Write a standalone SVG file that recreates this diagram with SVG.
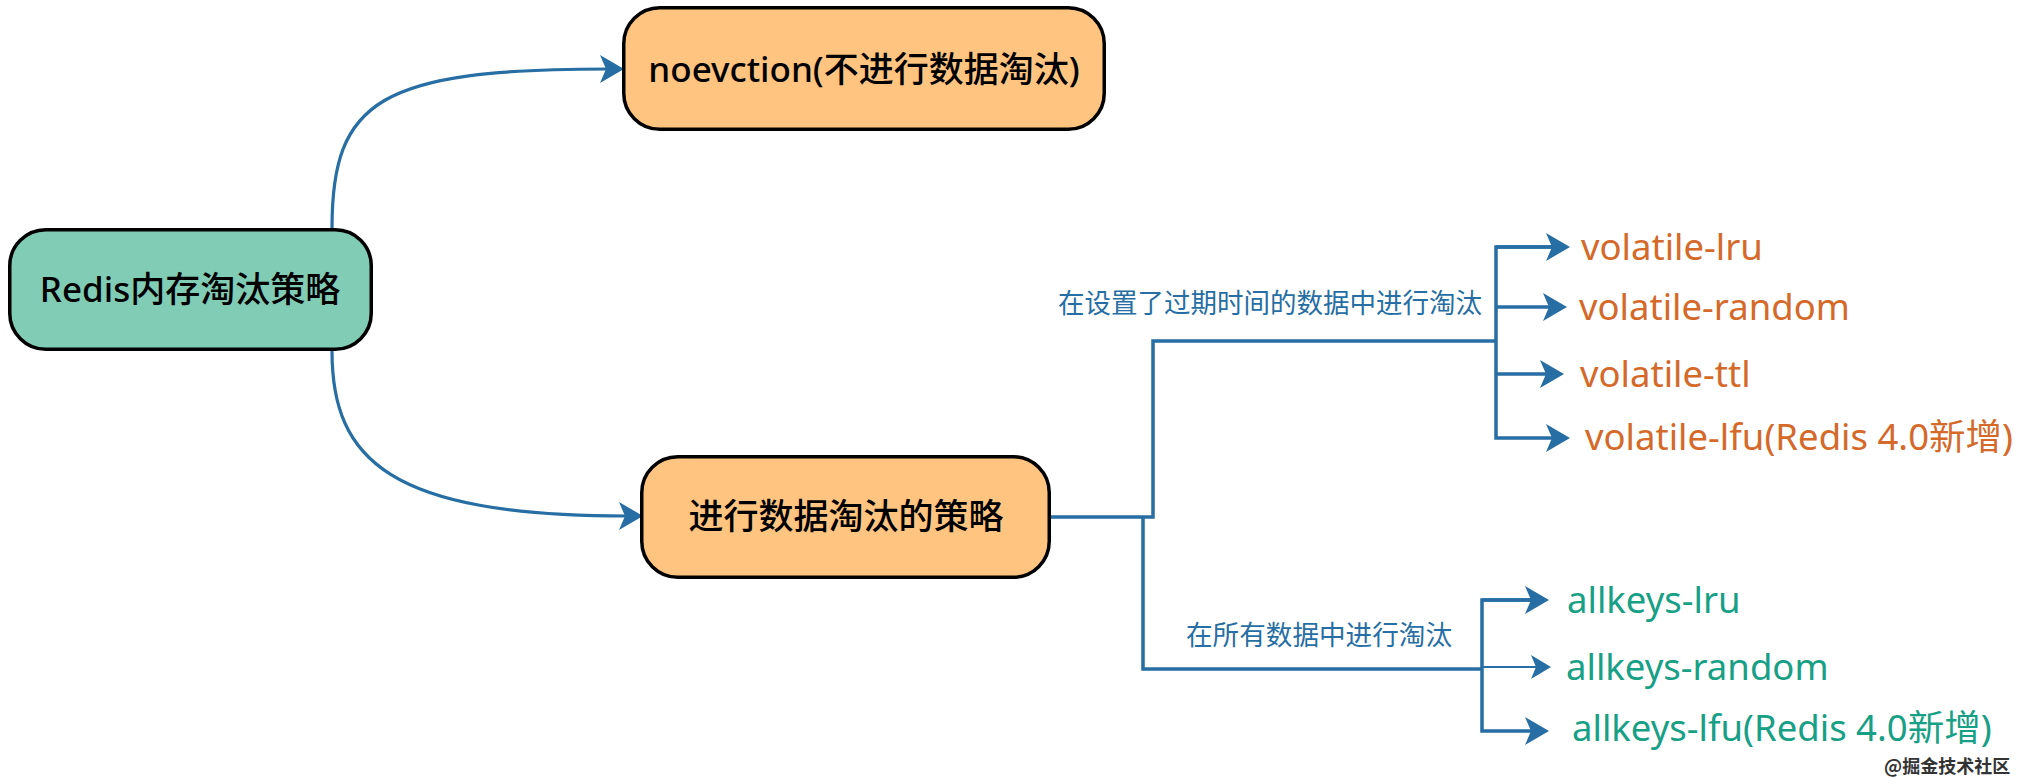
<svg xmlns="http://www.w3.org/2000/svg" width="2040" height="778" viewBox="0 0 2040 778">
  <style>
    .box { stroke: #000000; stroke-width: 3.5; }
    .root { fill: #80ccb5; }
    .leaf { fill: #ffc480; }
    .ntext { font-family: 'Noto Sans', 'Noto Sans CJK SC', sans-serif; font-size: 35px; fill: #000000; text-anchor: middle; font-weight: 500; }
    .conn { fill: none; stroke: #266ea3; stroke-width: 3.5; stroke-linejoin: miter; }
    .curve { stroke-width: 3.2; }
    .thin { stroke-width: 1.8; }
    .label { font-family: 'Noto Sans CJK SC', 'Noto Sans', sans-serif; font-size: 27px; fill: #266ea3; }
    .opt { font-family: 'Noto Sans', 'Noto Sans CJK SC', sans-serif; font-size: 36.5px; }
    .orange { fill: #d4692a; }
    .green { fill: #17a085; }
    .wm { font-family: 'Noto Sans CJK SC', sans-serif; font-size: 18px; fill: #333333; font-weight: 700; }
  </style>
  <defs>
    <marker id="arrow" markerUnits="userSpaceOnUse" viewBox="0 0 24 28" refX="8" refY="14" markerWidth="24" markerHeight="28" orient="auto">
      <path d="M0,0 L24,14 L0,28 L6,14 Z" fill="#266ea3"/>
    </marker>
    <marker id="arrowS" markerUnits="userSpaceOnUse" viewBox="0 0 20 24" refX="6" refY="12" markerWidth="20" markerHeight="24" orient="auto">
      <path d="M0,0 L20,12 L0,24 L5,12 Z" fill="#266ea3"/>
    </marker>
  </defs>

  <g id="connectors">
    <path class="conn curve" d="M332,228 C332,100 380,69 608,69" marker-end="url(#arrow)"/>
    <path class="conn curve" d="M332,351 C332,460 390,516 627,516" marker-end="url(#arrow)"/>

    <path class="conn" d="M1051,517 H1153 V341 H1496"/>
    <path class="conn" d="M1554,247 H1496 V438 H1554" marker-end="url(#arrow)"/>
    <path class="conn" d="M1496,247 H1554" marker-end="url(#arrow)"/>
    <path class="conn" d="M1496,307 H1551" marker-end="url(#arrow)"/>
    <path class="conn" d="M1496,374 H1548" marker-end="url(#arrow)"/>

    <path class="conn" d="M1143,517 V669 H1482"/>
    <path class="conn" d="M1533,600 H1482 V731 H1533" marker-end="url(#arrow)"/>
    <path class="conn" d="M1482,600 H1533" marker-end="url(#arrow)"/>
    <path class="conn thin" d="M1482,667 H1537" marker-end="url(#arrowS)"/>

    <text class="label" x="1058" y="313" textLength="424" lengthAdjust="spacingAndGlyphs">在设置了过期时间的数据中进行淘汰</text>
    <text class="label" x="1186" y="645" textLength="266" lengthAdjust="spacingAndGlyphs">在所有数据中进行淘汰</text>
  </g>

  <g id="node-root">
    <rect class="box root" x="9.75" y="229.75" width="361.5" height="119.5" rx="36" ry="36"/>
    <text class="ntext" x="190" y="302">Redis内存淘汰策略</text>
  </g>

  <g id="node-noeviction">
    <rect class="box leaf" x="623.75" y="7.75" width="480.5" height="121.5" rx="36" ry="36"/>
    <text class="ntext" x="864" y="82">noevction(不进行数据淘汰)</text>
  </g>

  <g id="node-evict">
    <rect class="box leaf" x="641.75" y="456.75" width="407.5" height="120.5" rx="36" ry="36"/>
    <text class="ntext" x="846" y="529">进行数据淘汰的策略</text>
  </g>

  <g id="node-volatile-lru"><text class="opt orange" x="1581" y="260">volatile-lru</text></g>
  <g id="node-volatile-random"><text class="opt orange" x="1579" y="320">volatile-random</text></g>
  <g id="node-volatile-ttl"><text class="opt orange" x="1580" y="387">volatile-ttl</text></g>
  <g id="node-volatile-lfu"><text class="opt orange" x="1585" y="450">volatile-lfu(Redis 4.0新增)</text></g>

  <g id="node-allkeys-lru"><text class="opt green" x="1567" y="613">allkeys-lru</text></g>
  <g id="node-allkeys-random"><text class="opt green" x="1566" y="680">allkeys-random</text></g>
  <g id="node-allkeys-lfu"><text class="opt green" x="1572" y="741">allkeys-lfu(Redis 4.0新增)</text></g>

  <text class="wm" x="1884" y="773">@掘金技术社区</text>
</svg>
